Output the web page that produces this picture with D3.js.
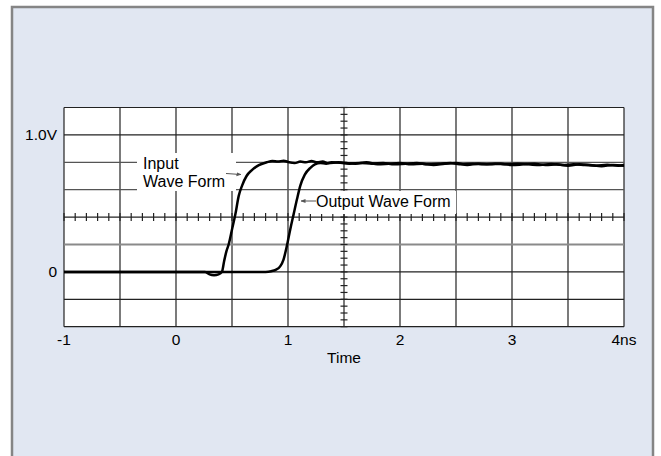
<!DOCTYPE html>
<html>
<head>
<meta charset="utf-8">
<script src="https://cdn.jsdelivr.net/npm/d3@7"></script>
<style>
  body { margin: 0; background: #fff; }
  text { font-family: "Liberation Sans", Arial, sans-serif; }
</style>
</head>
<body>
<svg id="chart" width="661" height="456"></svg>
<script>
// tick labels
const xTicks = [-1, 0, 1, 2, 3, 4];
const xTickLabels = ["-1", "0", "1", "2", "3", "4ns"];
const yTicks = [0, 1];
const yTickLabels = ["0", "1.0V"];

// input wave form (ns, V)
const inputTime = [-1, 0.26, 0.30, 0.34, 0.38, 0.41, 0.43, 0.45, 0.47, 0.50, 0.53, 0.56, 0.59, 0.63, 0.68, 0.74, 0.81, 0.86, 0.91, 0.96, 1.01, 1.06, 1.11, 1.16, 1.21, 1.26, 1.31, 1.36,
  1.45, 1.55, 1.65, 1.75, 1.85, 1.95, 2.05, 2.15, 2.25, 2.35, 2.45, 2.55, 2.65, 2.75, 2.85, 2.95, 3.05, 3.15, 3.25, 3.35, 3.45, 3.55, 3.65, 3.75, 3.85, 3.95, 4.0];
const inputVolts = [0, 0, -0.018, -0.024, -0.018, 0, 0.08, 0.15, 0.2, 0.31, 0.42, 0.555, 0.63, 0.70, 0.745, 0.78, 0.80, 0.81, 0.805, 0.812, 0.80, 0.795, 0.805, 0.80, 0.81, 0.80, 0.805, 0.795,
  0.80, 0.79, 0.795, 0.79, 0.795, 0.785, 0.79, 0.795, 0.785, 0.79, 0.795, 0.785, 0.79, 0.785, 0.79, 0.785, 0.79, 0.785, 0.78, 0.787, 0.78, 0.785, 0.78, 0.775, 0.782, 0.775, 0.78];

// output wave form (ns, V)
const outputTime = [-1, 0.80, 0.85, 0.89, 0.93, 0.96, 0.99, 1.02, 1.05, 1.08, 1.11, 1.15, 1.20, 1.24, 1.29, 1.34, 1.39,
  1.5, 1.6, 1.7, 1.8, 1.9, 2.0, 2.1, 2.2, 2.3, 2.4, 2.5, 2.6, 2.7, 2.8, 2.9, 3.0, 3.1, 3.2, 3.3, 3.4, 3.5, 3.6, 3.7, 3.8, 3.9, 4.0];
const outputVolts = [0, 0, 0.005, 0.015, 0.04, 0.09, 0.19, 0.31, 0.42, 0.53, 0.63, 0.71, 0.76, 0.785, 0.795, 0.79, 0.80,
  0.795, 0.79, 0.80, 0.785, 0.79, 0.795, 0.785, 0.79, 0.78, 0.79, 0.795, 0.78, 0.79, 0.785, 0.79, 0.78, 0.785, 0.79, 0.78, 0.785, 0.775, 0.785, 0.78, 0.772, 0.78, 0.775];

const svg = d3.select("#chart");

// panel
svg.append("rect")
  .attr("x", 12).attr("y", 7).attr("width", 641).attr("height", 470)
  .attr("fill", "#e1e7f2").attr("stroke", "#858585").attr("stroke-width", 2.5);

const x = d3.scaleLinear().domain([-1, 4]).range([64, 624]);
const y = d3.scaleLinear().domain([-0.4, 1.2]).range([326.7, 107.5]);

svg.append("rect")
  .attr("x", x(-1)).attr("y", y(1.2))
  .attr("width", x(4) - x(-1)).attr("height", y(-0.4) - y(1.2))
  .attr("fill", "#fff");

// grid
const grid = svg.append("g");
grid.selectAll(".vg").data(x.ticks(10)).enter().append("line")
  .attr("x1", d => x(d)).attr("x2", d => x(d))
  .attr("y1", y(1.2)).attr("y2", y(-0.4))
  .attr("stroke", "#222").attr("stroke-width", 1.2);

const hStroke = d => (Math.abs(d - 0.2) < 1e-6 ? "#8a8a8a" : (Math.abs(d - 0.6) < 1e-6 || Math.abs(d - 0.8) < 1e-6) ? "#555" : "#222");
grid.selectAll(".hg").data(y.ticks(8)).enter().append("line")
  .attr("x1", x(-1)).attr("x2", x(4))
  .attr("y1", d => y(d)).attr("y2", d => y(d))
  .attr("stroke", hStroke)
  .attr("stroke-width", d => Math.abs(d - 0.2) < 1e-6 ? 2 : 1.2);

// center axes with minor ticks
const cy = y(0.4), cx = x(1.5);
grid.selectAll(".mx").data(x.ticks(50)).enter().append("line")
  .attr("x1", d => x(d)).attr("x2", d => x(d))
  .attr("y1", cy - 4).attr("y2", cy + 4)
  .attr("stroke", "#222").attr("stroke-width", 1.2);
grid.selectAll(".my").data(y.ticks(40)).enter().append("line")
  .attr("x1", cx - 3.5).attr("x2", cx + 3.5)
  .attr("y1", d => y(d)).attr("y2", d => y(d))
  .attr("stroke", "#222").attr("stroke-width", 1.2);

// label boxes
svg.append("rect").attr("x", 137).attr("y", 153).attr("width", 99).attr("height", 38).attr("fill", "#fff");
svg.append("rect").attr("x", 300).attr("y", 191).attr("width", 156).attr("height", 23).attr("fill", "#fff");

// wave forms
const line = d3.line().x(d => x(d[0])).y(d => y(d[1])).curve(d3.curveMonotoneX);
svg.append("path")
  .datum(inputTime.map((t, i) => [t, inputVolts[i]]))
  .attr("d", line).attr("fill", "none").attr("stroke", "#000").attr("stroke-width", 2.5);
svg.append("path")
  .datum(outputTime.map((t, i) => [t, outputVolts[i]]))
  .attr("d", line).attr("fill", "none").attr("stroke", "#000").attr("stroke-width", 2.5);

// arrows
svg.append("defs").append("marker")
  .attr("id", "ah").attr("viewBox", "0 0 10 10").attr("refX", 9).attr("refY", 5)
  .attr("markerWidth", 5).attr("markerHeight", 5).attr("orient", "auto")
  .append("path").attr("d", "M0,1L10,5L0,9Z").attr("fill", "#555");
svg.append("line").attr("x1", 226).attr("y1", 173.5).attr("x2", 241).attr("y2", 174.5)
  .attr("stroke", "#555").attr("stroke-width", 1).attr("marker-end", "url(#ah)");
svg.append("line").attr("x1", 316).attr("y1", 201).attr("x2", 301).attr("y2", 201)
  .attr("stroke", "#555").attr("stroke-width", 1).attr("marker-end", "url(#ah)");

// annotations
svg.append("text").attr("x", 143).attr("y", 168.5).attr("font-size", 16).text("Input");
svg.append("text").attr("x", 143).attr("y", 187).attr("font-size", 16).text("Wave Form");
svg.append("text").attr("x", 316).attr("y", 206.5).attr("font-size", 16).text("Output Wave Form");

// tick labels
svg.selectAll(".xl").data(xTicks).enter().append("text")
  .attr("x", d => x(d)).attr("y", 345).attr("text-anchor", "middle").attr("font-size", 15.5)
  .text((d, i) => xTickLabels[i]);
svg.selectAll(".yl").data(yTicks).enter().append("text")
  .attr("x", 57).attr("y", d => y(d) + 5.5).attr("text-anchor", "end").attr("font-size", 15.5)
  .text((d, i) => yTickLabels[i]);

svg.append("text").attr("x", x(1.5)).attr("y", 363).attr("text-anchor", "middle").attr("font-size", 15.5).text("Time");
</script>
</body>
</html>
